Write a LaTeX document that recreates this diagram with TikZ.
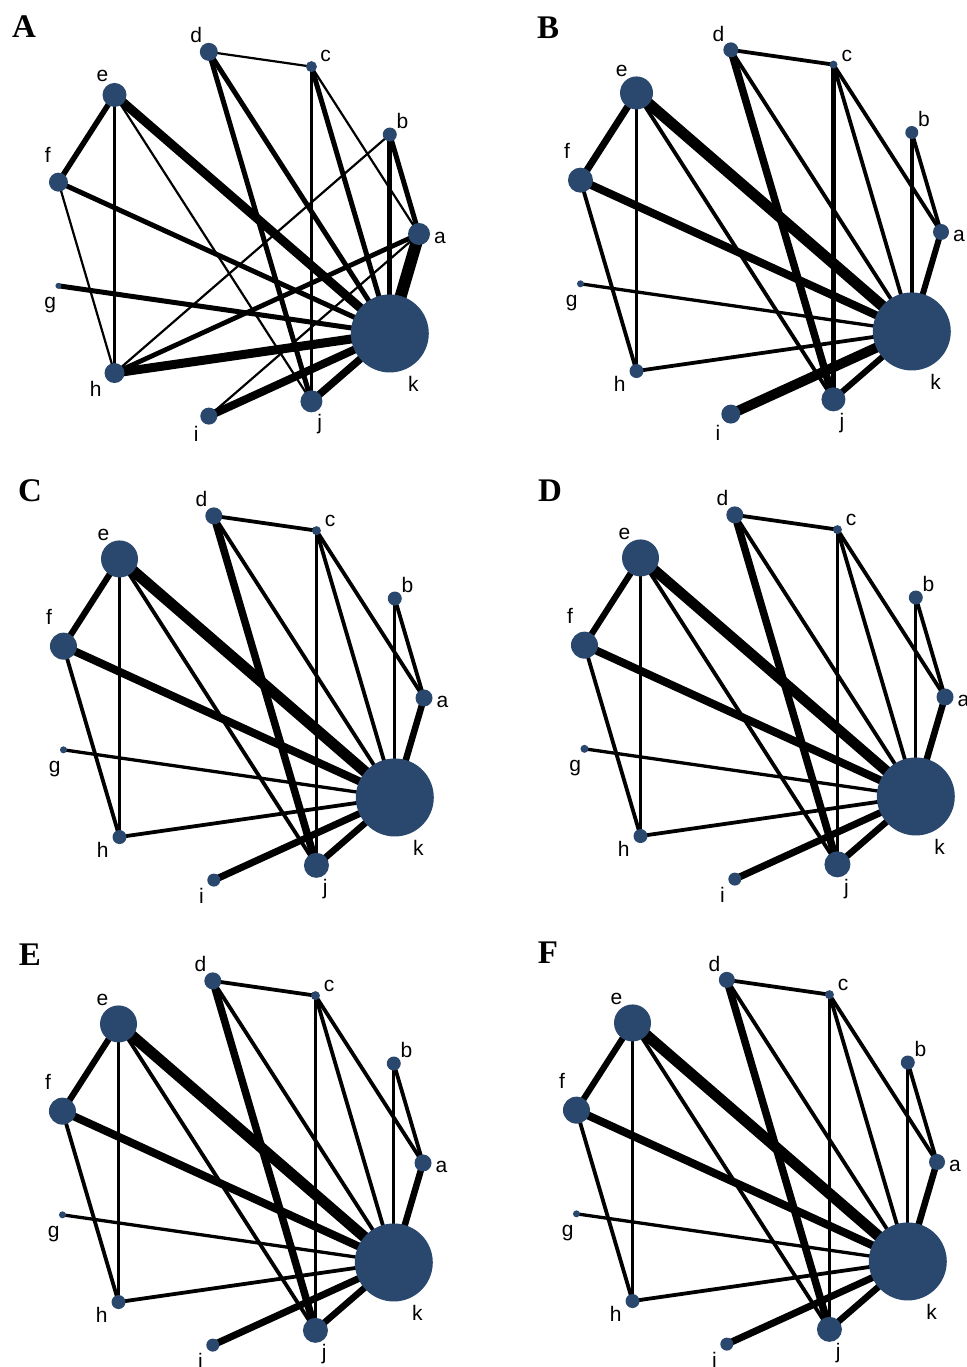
\documentclass[tikz,border=0pt]{standalone}
\usepackage{fontspec}
\setmainfont{Liberation Sans}
\newfontfamily\panelfont{Liberation Serif}
\usetikzlibrary{calc,backgrounds}
\definecolor{nodeblue}{RGB}{42,72,110}
\tikzset{
  netnode/.style={circle, fill=nodeblue, draw=none, inner sep=0pt},
  netlabel/.style={inner sep=0pt, font=\fontsize{21}{21}\selectfont},
  paneltag/.style={inner sep=0pt, font=\panelfont\bfseries\fontsize{33}{33}\selectfont},
  netedge/.style={draw=black}
}
% #1 prefix, #2 cx, #3 cy, #4 radii (a..k), #5 edges u/v/width
\newcommand{\netpanel}[5]{%
  \foreach \n/\la/\lx [count=\i from 0] in {a/-1/0,b/34/1,c/63/0,d/101/0,e/130/0,f/157/0,g/201/1,h/228/4,i/259/1,j/294/3,k/320/0} {
    \pgfmathsetmacro\rr{{#4}[\i]}
    \pgfmathsetmacro\dd{2*\rr}
    \pgfmathsetmacro\ang{\i*360/11}
    \pgfmathsetmacro\ld{194+\rr+\lx}
    \node[netnode, minimum size=\dd pt] (#1-\n) at ($(#2,#3)+(\ang:184pt)$) {};
    \node[netlabel] (#1-\n-lab) at ($(#2,#3)+(\la:\ld pt)$) {\n};
  }
  \begin{pgfonlayer}{background}
    \foreach \u/\v/\w in {#5} {
      \draw[netedge, line width=\w pt] (#1-\u.center) -- (#1-\v.center);
    }
  \end{pgfonlayer}
}
\begin{document}
\begin{tikzpicture}[x=1pt,y=1pt]
\useasboundingbox (0,0) rectangle (966,1367);
\begin{pgfonlayer}{background}
\fill[white] (0,0) rectangle (966,1367);
\end{pgfonlayer}

% Panel A
\node[paneltag] (tagA) at (24,1340) {A};
\netpanel{A}{235}{1133}{11,7,5.5,9,12,9.5,3,10,8.5,11,39}{d/c/2.2, d/j/5, d/k/5, c/j/2.2, c/k/5, c/a/2.2, e/f/5.5, e/h/2.2, e/k/9, e/j/2.2, b/h/2.2, b/k/4.8, b/a/5, f/k/5, f/h/2.2, g/k/5, h/k/9, h/a/4.8, a/k/12, a/i/2.2, i/k/8, j/k/7.5}

% Panel B
\node[paneltag] (tagB) at (548,1339) {B};
\netpanel{B}{757}{1135}{8,6.5,4,7.5,16.5,12.5,3.5,7,9.5,12,39}{d/c/3.8, d/j/7.5, d/k/3.8, c/j/4.2, c/k/3.8, c/a/3.8, e/f/7, e/h/3.8, e/k/11, e/j/3.8, b/k/3.8, b/a/3.8, f/k/8, f/h/3.8, g/k/3.3, h/k/3.8, a/k/6, i/k/10, j/k/6}

% Panel C
\node[paneltag] (tagC) at (30,876) {C};
\netpanel{C}{240}{669}{8.5,7,4.5,8.5,18.5,13.5,3.5,7,6.5,12.5,39}{d/c/3.8, d/j/7.5, d/k/3.8, c/j/3.8, c/k/3.8, c/a/3.8, e/f/6.2, e/h/3.8, e/k/11, e/j/3.8, b/k/3.3, b/a/3.8, f/k/8, f/h/3.8, g/k/3.3, h/k/3.8, a/k/6.5, i/k/7, j/k/6.5}

% Panel D
\node[paneltag] (tagD) at (550,876) {D};
\netpanel{D}{761}{670}{8.5,7,4.5,8.5,18.5,13.5,4,7,6.5,13,39}{d/c/3.8, d/j/7.5, d/k/3.8, c/j/3.8, c/k/3.8, c/a/3.8, e/f/6.2, e/h/3.8, e/k/10.5, e/j/3.8, b/k/3.3, b/a/3.8, f/k/8, f/h/3.8, g/k/3.3, h/k/3.8, a/k/6.5, i/k/7, j/k/6.5}

% Panel E
\node[paneltag] (tagE) at (30,412) {E};
\netpanel{E}{239}{204}{8.5,7,4.5,8.5,18.5,13.5,3.5,7,6.5,12.5,39}{d/c/3.8, d/j/7.5, d/k/3.8, c/j/3.8, c/k/3.8, c/a/3.8, e/f/6.2, e/h/3.8, e/k/11, e/j/3.8, b/k/3.3, b/a/3.8, f/k/8, f/h/3.8, g/k/3.3, h/k/3.8, a/k/6.5, i/k/7, j/k/6.5}

% Panel F
\node[paneltag] (tagF) at (548,414) {F};
\netpanel{F}{753}{205}{8,7,4.5,8,18.5,13.5,3.5,7,6.5,12.5,39}{d/c/3.8, d/j/7.5, d/k/3.8, c/j/3.8, c/k/3.8, c/a/3.8, e/f/6.2, e/h/3.8, e/k/11, e/j/3.8, b/k/3.3, b/a/3.8, f/k/8, f/h/3.8, g/k/3.3, h/k/3.8, a/k/6.5, i/k/7, j/k/6.5}
\end{tikzpicture}
\end{document}
